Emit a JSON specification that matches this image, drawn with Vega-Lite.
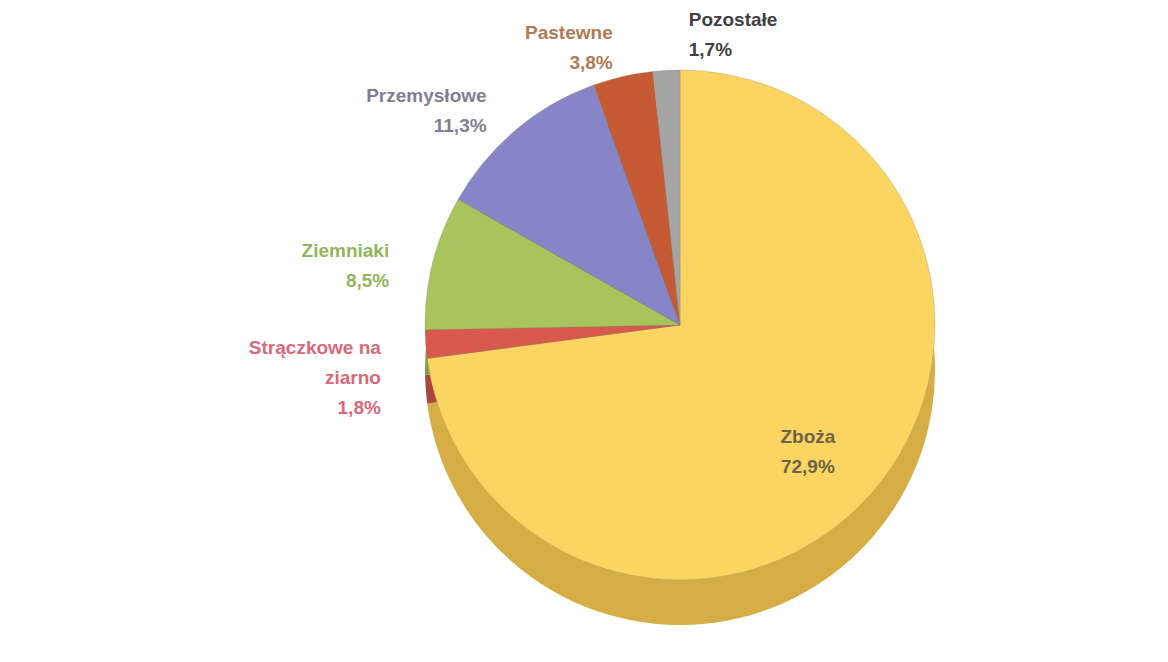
{
  "$schema": "https://vega.github.io/schema/vega-lite/v6.json",
  "width": 1168,
  "height": 662,
  "autosize": {"type": "fit", "contains": "padding"},
  "padding": {"left": 192, "right": 0, "top": 0, "bottom": 12},
  "background": "white",
  "view": {"stroke": null},
  "data": {
    "values": [
      {"crop": "Zboża", "value": 72.9, "label": "Zboża\n72,9%"},
      {"crop": "Strączkowe na ziarno", "value": 1.8, "label": "Strączkowe na\nziarno\n1,8%"},
      {"crop": "Ziemniaki", "value": 8.5, "label": "Ziemniaki\n8,5%"},
      {"crop": "Przemysłowe", "value": 11.3, "label": "Przemysłowe\n11,3%"},
      {"crop": "Pastewne", "value": 3.8, "label": "Pastewne\n3,8%"},
      {"crop": "Pozostałe", "value": 1.7, "label": "Pozostałe\n1,7%"}
    ]
  },
  "transform": [{"window": [{"op": "row_number", "as": "idx"}]}],
  "encoding": {
    "theta": {"field": "value", "type": "quantitative", "stack": true},
    "order": {"field": "idx", "type": "quantitative"}
  },
  "layer": [
    {
      "mark": {"type": "arc", "outerRadius": 255, "yOffset": 45},
      "encoding": {
        "color": {
          "field": "crop", "type": "nominal", "legend": null,
          "scale": {
            "domain": ["Zboża", "Strączkowe na ziarno", "Ziemniaki", "Przemysłowe", "Pastewne", "Pozostałe"],
            "range": ["#D6AC45", "#A8463D", "#859E46", "#6767A0", "#9C4529", "#858585"]
          }
        }
      }
    },
    {
      "mark": {"type": "arc", "outerRadius": 255, "stroke": "#8a8060", "strokeWidth": 0.3},
      "encoding": {
        "color": {
          "field": "crop", "type": "nominal", "legend": null,
          "scale": {
            "domain": ["Zboża", "Strączkowe na ziarno", "Ziemniaki", "Przemysłowe", "Pastewne", "Pozostałe"],
            "range": ["#FCD462", "#D9594E", "#A7C55C", "#8585C8", "#C65A35", "#A5A5A5"]
          }
        }
      }
    },
    {
      "mark": {"type": "text", "radius": 300, "align": "right", "baseline": "middle", "lineBreak": "\n", "lineHeight": 30, "font": "Liberation Sans", "fontSize": 19, "fontWeight": "bold"},
      "encoding": {
        "text": {"condition": {"test": "datum.crop !== 'Pozostałe' && datum.crop !== 'Zboża'", "field": "label", "type": "nominal"}, "value": ""},
        "color": {
          "field": "crop", "type": "nominal", "legend": null,
          "scale": {
            "domain": ["Zboża", "Strączkowe na ziarno", "Ziemniaki", "Przemysłowe", "Pastewne", "Pozostałe"],
            "range": ["#5E5A48", "#D9687A", "#93B55A", "#7F7F8F", "#B27A52", "#404040"]
          }
        }
      }
    },
    {
      "mark": {"type": "text", "radius": 305, "align": "left", "dx": 25, "baseline": "middle", "lineBreak": "\n", "lineHeight": 30, "font": "Liberation Sans", "fontSize": 19, "fontWeight": "bold", "fill": "#404040"},
      "encoding": {
        "text": {"condition": {"test": "datum.crop === 'Pozostałe'", "field": "label", "type": "nominal"}, "value": ""}
      }
    },
    {
      "mark": {"type": "text", "radius": 170, "align": "center", "baseline": "middle", "lineBreak": "\n", "lineHeight": 30, "font": "Liberation Sans", "fontSize": 19, "fontWeight": "bold", "fill": "#6B6448"},
      "encoding": {
        "text": {"condition": {"test": "datum.crop === 'Zboża'", "field": "label", "type": "nominal"}, "value": ""}
      }
    }
  ],
  "resolve": {"scale": {"color": "independent"}}
}
